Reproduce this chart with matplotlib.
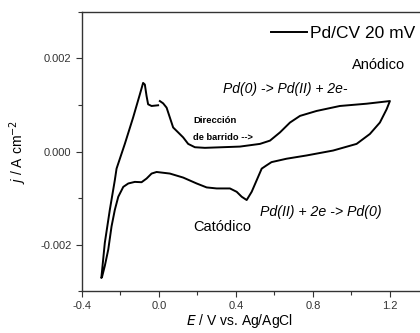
import numpy as np
import matplotlib.pyplot as plt
from matplotlib.ticker import MultipleLocator

plt.rcParams["font.family"] = ["Liberation Sans", "DejaVu Sans"]

# potencial (V vs Ag/AgCl) y densidad de corriente (A/cm2), leidos de la figura
# barrido: 0.0 V -> 1.2 V -> -0.3 V -> 0.0 V
E = [0.005, 0.022, 0.040, 0.057, 0.074, 0.100, 0.126, 0.152, 0.187, 0.239,
     0.421, 0.525, 0.577, 0.629, 0.681, 0.733, 0.819, 0.940, 1.079, 1.200,
     1.183, 1.148, 1.096, 1.027, 0.905, 0.767, 0.663, 0.585, 0.559, 0.534,
     0.508, 0.482, 0.456, 0.430, 0.404, 0.369, 0.300, 0.248, 0.196, 0.126,
     0.057, -0.012, -0.038, -0.064, -0.090, -0.125, -0.159, -0.185, -0.211,
     -0.229, -0.246, -0.263, -0.281, -0.295, -0.299,
     -0.281, -0.255, -0.229, -0.220, -0.177, -0.134, -0.099, -0.082, -0.073,
     -0.064, -0.056, -0.038, -0.004]
j = [0.001085, 0.001036, 0.000943, 0.000730, 0.000517, 0.000411, 0.000304,
     0.000164, 0.000092, 0.000079, 0.000106, 0.000164, 0.000234, 0.000411,
     0.000623, 0.000766, 0.000872, 0.000979, 0.001028, 0.001085,
     0.000909, 0.000623, 0.000377, 0.000164, 0.000021, -0.000085, -0.000155,
     -0.000228, -0.000298, -0.000368, -0.000617, -0.000866, -0.001043,
     -0.000972, -0.000866, -0.000794, -0.000794, -0.000772, -0.000687,
     -0.000560, -0.000474, -0.000440, -0.000474, -0.000581, -0.000660,
     -0.000653, -0.000687, -0.000760, -0.000972, -0.001255, -0.001610,
     -0.002106, -0.002460, -0.002690, -0.002720,
     -0.001964, -0.001255, -0.000617, -0.000368, 0.000164, 0.000730,
     0.001228, 0.001475, 0.001440, 0.001191, 0.001015, 0.000979, 0.000994]

fig = plt.figure(figsize=(4.2, 3.33), dpi=100)
ax = fig.add_axes([0.195, 0.126, 0.825, 0.838])
ax.plot(E, j, color="black", linewidth=1.4, label="Pd/CV 20 mV",
        solid_joinstyle="round")

ax.set_xlim(-0.4, 1.4)
ax.set_ylim(-0.003, 0.003)
ax.xaxis.set_major_locator(MultipleLocator(0.4))
ax.xaxis.set_minor_locator(MultipleLocator(0.2))
ax.yaxis.set_major_locator(MultipleLocator(0.002))
ax.yaxis.set_minor_locator(MultipleLocator(0.001))
ax.xaxis.set_major_formatter(plt.FuncFormatter(lambda v, p: "%.1f" % v))
ax.yaxis.set_major_formatter(plt.FuncFormatter(lambda v, p: "%.3f" % v))
ax.tick_params(which="both", direction="out", labelsize=8, width=0.8, colors="#333333")
ax.tick_params(which="major", length=4)
ax.tick_params(which="minor", length=3)
ax.spines["right"].set_visible(False)
for s in ["left", "bottom", "top"]:
    ax.spines[s].set_linewidth(1.0)
    ax.spines[s].set_color("#333333")

ax.set_xlabel("$E$ / V vs. Ag/AgCl", fontsize=10)
ax.xaxis.set_label_coords(0.456, -0.075)
ax.set_ylabel("$j$ / A cm$^{-2}$", fontsize=10, labelpad=8)

ax.legend(loc="center right", bbox_to_anchor=(415 / 420, 1 - 33 / 333),
          bbox_transform=fig.transFigure, frameon=False, fontsize=12.5,
          handlelength=2.1, handletextpad=0.15, borderpad=0, borderaxespad=0)

ax.text(1.143, 0.00185, "Anódico", fontsize=10.5, ha="center", va="center")
ax.text(0.655, 0.00134, "Pd(0) -> Pd(II) + 2e-", fontsize=10, style="italic",
        ha="center", va="center")
ax.text(0.177, 0.00066, "Dirección", fontsize=6.8, fontweight="bold", va="center")
ax.text(0.177, 0.00030, "de barrido -->", fontsize=6.7, fontweight="bold", va="center")
ax.text(0.177, -0.00162, "Catódico", fontsize=10.5, va="center")
ax.text(0.525, -0.0013, "Pd(II) + 2e -> Pd(0)", fontsize=10.2, style="italic",
        va="center")

fig.savefig("out.png", dpi=100)
